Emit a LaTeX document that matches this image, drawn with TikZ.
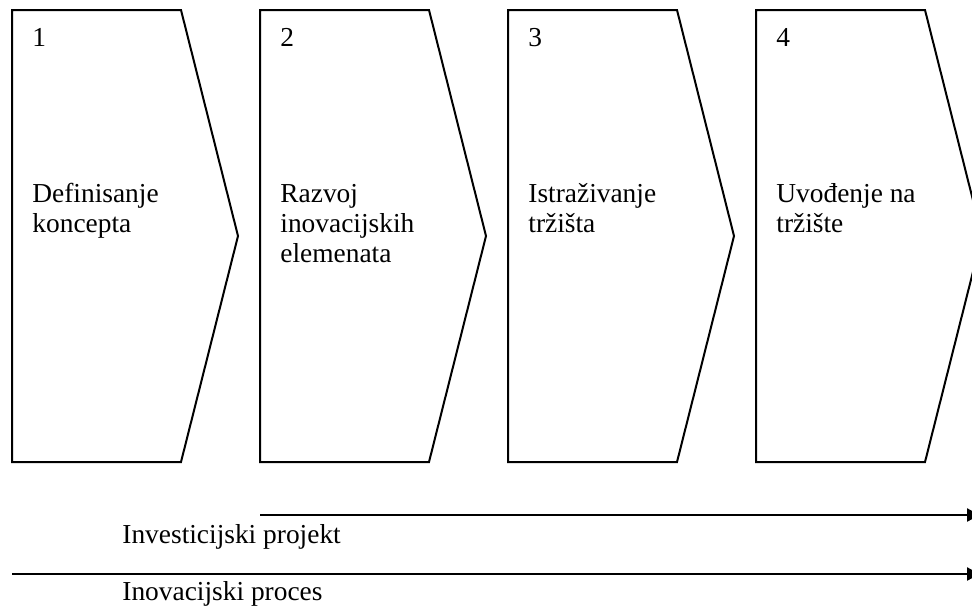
\documentclass[tikz,border=0pt]{standalone}
\usepackage{fontspec}
\setmainfont{Liberation Serif}
\usetikzlibrary{calc,arrows.meta}

\begin{document}
\begin{tikzpicture}[x=0.5pt,y=-0.5pt,
  phase/.style={draw,line width=1pt,line join=miter},
  stagetext/.style={anchor=base west,inner sep=0pt,align=left,
    font=\fontsize{13.7}{15}\selectfont},
  flow/.style={line width=0.75pt,-{Latex[length=8pt,width=7pt]}}]
\clip (0,0) rectangle (972,611);
% \n = number of text lines (base anchor sits on the last line)
\foreach \i/\n/\txt in {1/2/{Definisanje\\koncepta},
                        2/3/{Razvoj\\inovacijskih\\elemenata},
                        3/2/{Istraživanje\\tržišta},
                        4/2/{Uvođenje na\\tržište}} {
  \pgfmathsetmacro\x{12+248*(\i-1)}
  \draw[phase] (\x,10) -- ++(169,0) -- ++(57,226) -- ++(-57,226) -- ++(-169,0) -- cycle;
  \node[stagetext] (num\i) at (\x+20,46) {\i};
  \node[stagetext] (txt\i) at (\x+20,172+30*\n) {\txt};
}
% investicijski projekt / inovacijski proces
\coordinate (projstart) at (260,515);
\coordinate (projend) at (983,515);
\coordinate (procstart) at (12,574);
\coordinate (procend) at (983,574);
\draw[flow] (projstart) -- (projend);
\draw[flow] (procstart) -- (procend);
\node[stagetext] (projlabel) at (122,543) {Investicijski projekt};
\node[stagetext] (proclabel) at (122,600) {Inovacijski proces};
\end{tikzpicture}
\end{document}
